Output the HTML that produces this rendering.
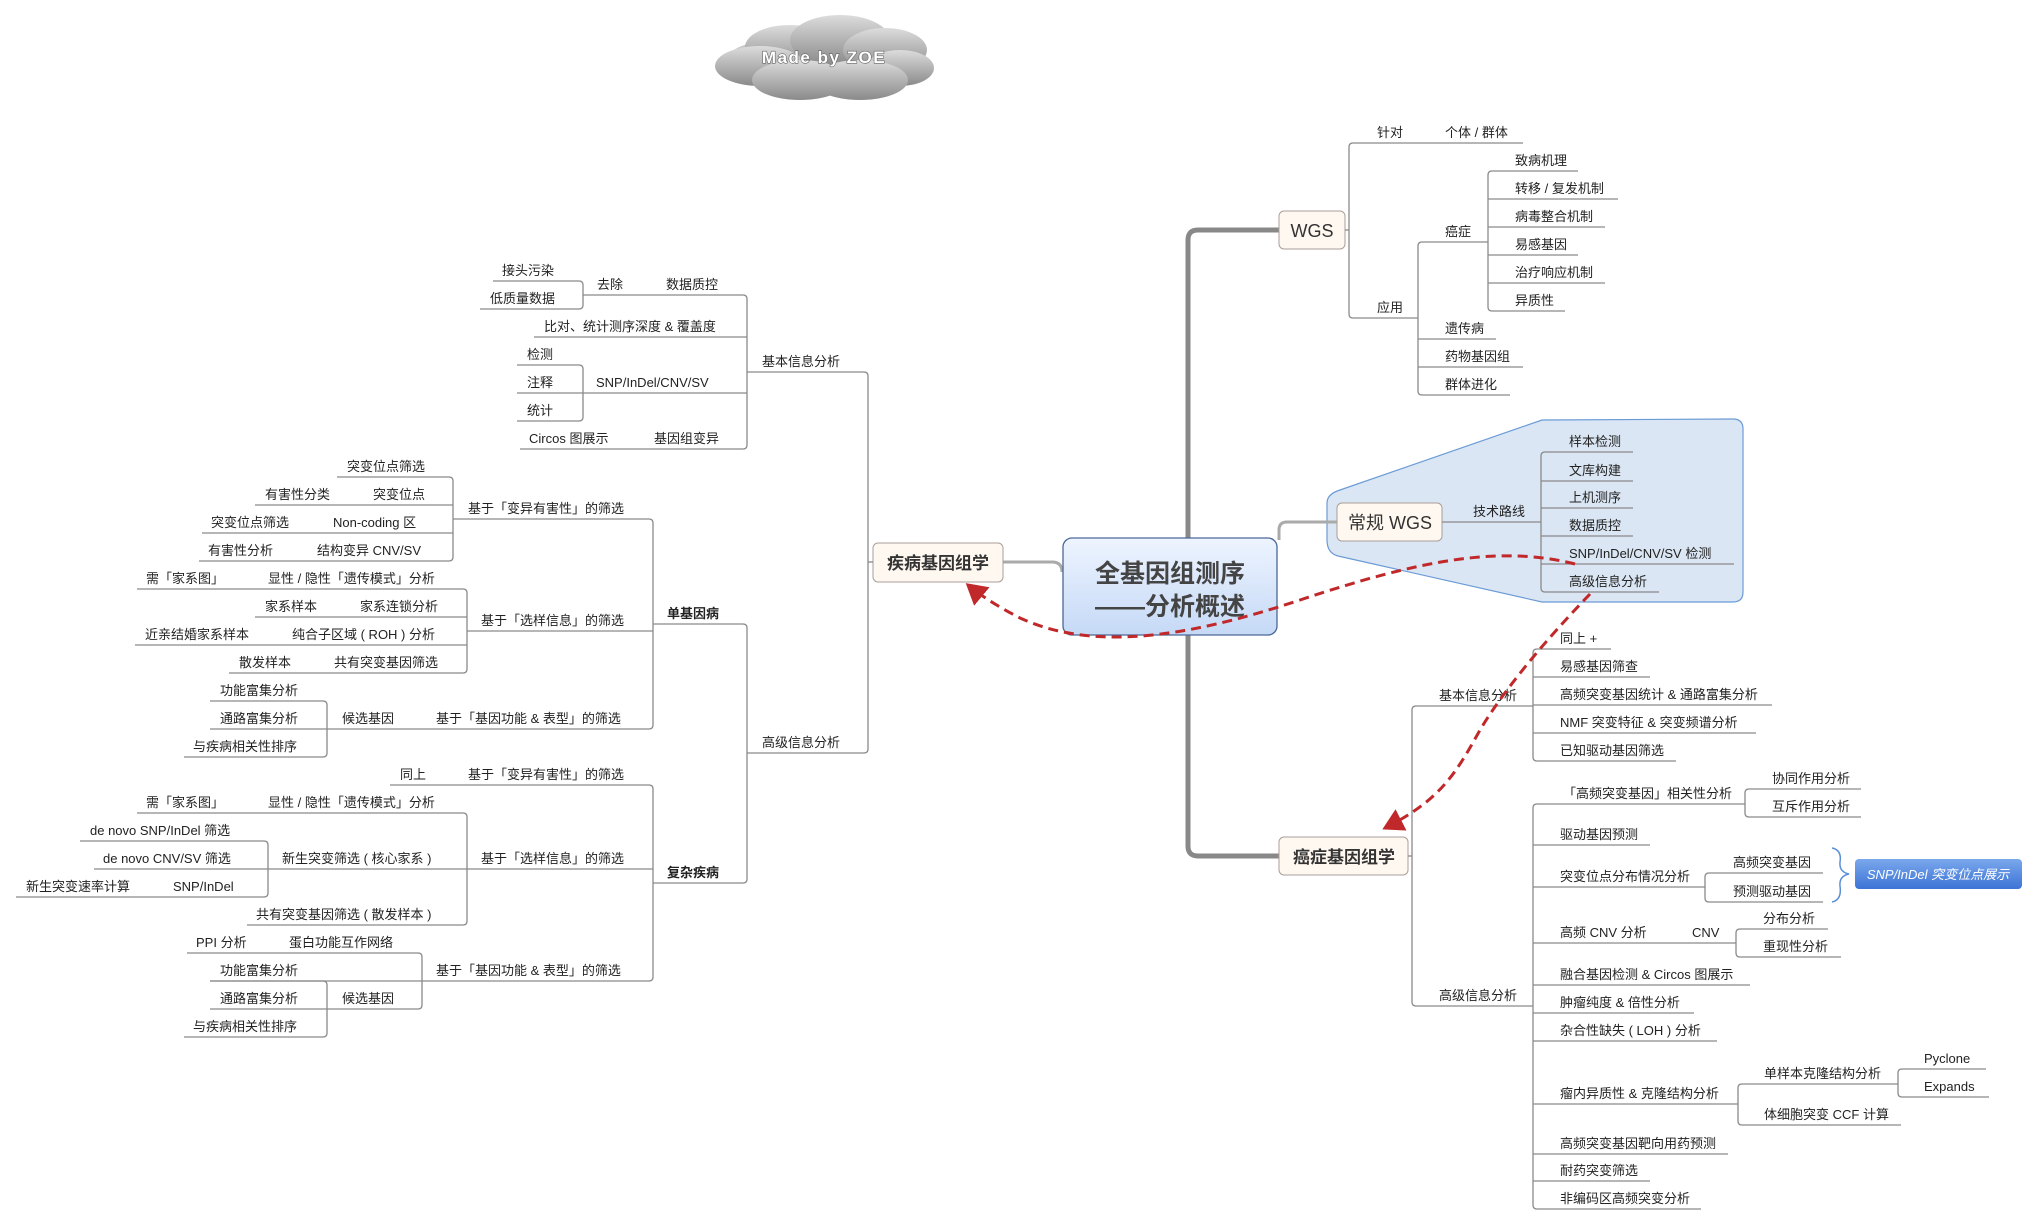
<!DOCTYPE html>
<html><head><meta charset="utf-8"><style>
html,body{margin:0;padding:0;background:#fff;}
svg{display:block;}
text{font-family:"Liberation Sans","Noto Sans CJK SC",sans-serif;font-size:13px;fill:#222;}
.b{font-weight:bold;}
</style></head><body>
<svg width="2039" height="1225" viewBox="0 0 2039 1225" xmlns="http://www.w3.org/2000/svg">
<defs>
<linearGradient id="cg" x1="0" y1="0" x2="0" y2="1"><stop offset="0" stop-color="#dcdcdc"/><stop offset="1" stop-color="#8a8a8a"/></linearGradient>
<linearGradient id="mg" x1="0" y1="0" x2="0" y2="1"><stop offset="0" stop-color="#eef4ff"/><stop offset="1" stop-color="#c5d9f6"/></linearGradient>
<linearGradient id="bg" x1="0" y1="0" x2="0" y2="1"><stop offset="0" stop-color="#7aa8ec"/><stop offset="1" stop-color="#3d74d6"/></linearGradient>
<marker id="ah" markerWidth="8" markerHeight="8" refX="6" refY="4" orient="auto" markerUnits="strokeWidth"><path d="M0,0 L7,4 L0,8 Z" fill="#c0282a"/></marker>
</defs>

<!-- cloud -->
<g fill="url(#cg)">
<ellipse cx="826" cy="60" rx="100" ry="26"/>
<ellipse cx="790" cy="47" rx="45" ry="22"/>
<ellipse cx="840" cy="40" rx="50" ry="25"/>
<ellipse cx="885" cy="50" rx="42" ry="22"/>
<ellipse cx="760" cy="66" rx="45" ry="20"/>
<ellipse cx="900" cy="68" rx="34" ry="18"/>
<ellipse cx="800" cy="80" rx="48" ry="20"/>
<ellipse cx="860" cy="80" rx="48" ry="20"/>
</g>
<text x="824" y="63" text-anchor="middle" style="font-family:'Liberation Sans',sans-serif;font-size:17px;font-weight:bold;fill:#fff;stroke:#666;stroke-width:1.2;paint-order:stroke;letter-spacing:1.5px">Made by ZOE</text>

<!-- 常规WGS blob -->
<path d="M1340,490 L1542,420 L1733,419 Q1743,419 1743,429 L1743,592 Q1743,602 1733,602 L1542,602 L1338,556 Q1327,553 1327,540 L1327,503 Q1327,494 1340,490 Z" fill="#dae6f3" stroke="#6b9bd6" stroke-width="1.2"/>

<!-- trunks -->
<g fill="none" stroke="#888" stroke-width="5">
<path d="M1188,540 L1188,240 Q1188,230 1198,230 L1279,230"/>
<path d="M1188,635 L1188,846 Q1188,856 1198,856 L1279,856"/>
</g>
<g fill="none" stroke="#aaa" stroke-width="3">
<path d="M1279,540 L1279,530 Q1279,522 1287,522 L1337,522"/>
<path d="M1003,562 L1052,562 Q1062,562 1062,572"/>
</g>

<!-- main node -->
<rect x="1063" y="538" width="214" height="97" rx="9" fill="url(#mg)" stroke="#4a6796" stroke-width="1.3"/>
<text x="1170" y="582" text-anchor="middle" class="b" style="font-size:25px;fill:#444">全基因组测序</text>
<text x="1170" y="615" text-anchor="middle" class="b" style="font-size:25px;fill:#444">——分析概述</text>

<!-- level-1 nodes -->
<rect x="873" y="543" width="130" height="39" rx="5" fill="#fff8f1" stroke="#a89f98"/>
<text x="938" y="569" text-anchor="middle" class="b" style="font-size:17px;fill:#333">疾病基因组学</text>
<rect x="1279" y="211" width="66" height="38" rx="5" fill="#fff8f1" stroke="#a89f98"/>
<text x="1312" y="237" text-anchor="middle" style="font-size:18px;fill:#333">WGS</text>
<rect x="1337" y="503" width="105" height="38" rx="5" fill="#fff8f1" stroke="#a89f98"/>
<text x="1390" y="529" text-anchor="middle" style="font-size:18px;fill:#333">常规 WGS</text>
<rect x="1279" y="837" width="129" height="38" rx="5" fill="#fff8f1" stroke="#a89f98"/>
<text x="1344" y="863" text-anchor="middle" class="b" style="font-size:17px;fill:#333">癌症基因组学</text>

<!-- branch lines -->
<g stroke="#8a8a8a" stroke-width="1.3" fill="none">
<line x1="868" y1="562" x2="873" y2="562"/>
<path d="M868,376 L868,749"/><path d="M868,376 Q868,372 864,372 L747,372"/><path d="M868,749 Q868,753 864,753 L747,753"/>
<path d="M747,299 L747,445"/><path d="M747,299 Q747,295 743,295 L583,295"/><path d="M747,445 Q747,449 743,449 L520,449"/>
<line x1="747" y1="337" x2="534" y2="337"/><line x1="747" y1="393" x2="517" y2="393"/>
<path d="M583,285 L583,305"/><path d="M583,285 Q583,281 579,281 L493,281"/><path d="M583,305 Q583,309 579,309 L480,309"/>
<path d="M583,369 L583,417"/><path d="M583,369 Q583,365 579,365 L517,365"/><path d="M583,417 Q583,421 579,421 L517,421"/>
<path d="M747,628 L747,879"/><path d="M747,628 Q747,624 743,624 L653,624"/><path d="M747,879 Q747,883 743,883 L653,883"/>
<path d="M653,523 L653,725"/><path d="M653,523 Q653,519 649,519 L453,519"/><path d="M653,725 Q653,729 649,729 L327,729"/>
<line x1="653" y1="631" x2="467" y2="631"/>
<path d="M453,481 L453,557"/><path d="M453,481 Q453,477 449,477 L337,477"/><path d="M453,557 Q453,561 449,561 L199,561"/>
<line x1="453" y1="505" x2="255" y2="505"/><line x1="453" y1="533" x2="202" y2="533"/>
<path d="M467,593 L467,669"/><path d="M467,593 Q467,589 463,589 L137,589"/><path d="M467,669 Q467,673 463,673 L229,673"/>
<line x1="467" y1="617" x2="255" y2="617"/><line x1="467" y1="645" x2="135" y2="645"/>
<path d="M327,705 L327,753"/><path d="M327,705 Q327,701 323,701 L210,701"/><path d="M327,753 Q327,757 323,757 L184,757"/>
<line x1="327" y1="729" x2="210" y2="729"/>
<path d="M653,789 L653,977"/><path d="M653,789 Q653,785 649,785 L390,785"/><path d="M653,977 Q653,981 649,981 L422,981"/>
<line x1="653" y1="869" x2="467" y2="869"/>
<path d="M467,817 L467,921"/><path d="M467,817 Q467,813 463,813 L137,813"/><path d="M467,921 Q467,925 463,925 L247,925"/>
<line x1="467" y1="869" x2="268" y2="869"/>
<path d="M268,845 L268,893"/><path d="M268,845 Q268,841 264,841 L80,841"/><path d="M268,893 Q268,897 264,897 L16,897"/>
<line x1="268" y1="869" x2="94" y2="869"/>
<path d="M422,957 L422,1005"/><path d="M422,957 Q422,953 418,953 L187,953"/><path d="M422,1005 Q422,1009 418,1009 L327,1009"/>
<line x1="422" y1="981" x2="210" y2="981"/>
<path d="M327,985 L327,1033"/><path d="M327,985 Q327,981 323,981 L210,981"/><path d="M327,1033 Q327,1037 323,1037 L184,1037"/>
<line x1="327" y1="1009" x2="210" y2="1009"/>

<line x1="1345" y1="230" x2="1349" y2="230"/>
<path d="M1349,147 L1349,314"/><path d="M1349,147 Q1349,143 1353,143 L1523,143"/><path d="M1349,314 Q1349,318 1353,318 L1418,318"/>
<path d="M1418,246 L1418,391"/><path d="M1418,246 Q1418,242 1422,242 L1488,242"/><path d="M1418,391 Q1418,395 1422,395 L1510,395"/>
<line x1="1418" y1="339" x2="1496" y2="339"/><line x1="1418" y1="367" x2="1523" y2="367"/>
<path d="M1488,175 L1488,307"/><path d="M1488,175 Q1488,171 1492,171 L1578,171"/><path d="M1488,307 Q1488,311 1492,311 L1565,311"/>
<line x1="1488" y1="199" x2="1618" y2="199"/><line x1="1488" y1="227" x2="1605" y2="227"/><line x1="1488" y1="255" x2="1578" y2="255"/><line x1="1488" y1="283" x2="1605" y2="283"/>
<line x1="1442" y1="522" x2="1541" y2="522"/>
<path d="M1541,456 L1541,588"/><path d="M1541,456 Q1541,452 1545,452 L1633,452"/><path d="M1541,588 Q1541,592 1545,592 L1659,592"/>
<line x1="1541" y1="481" x2="1633" y2="481"/><line x1="1541" y1="508" x2="1633" y2="508"/><line x1="1541" y1="536" x2="1633" y2="536"/><line x1="1541" y1="564" x2="1734" y2="564"/>
<line x1="1408" y1="856" x2="1412" y2="856"/>
<path d="M1412,710 L1412,1002"/><path d="M1412,710 Q1412,706 1416,706 L1533,706"/><path d="M1412,1002 Q1412,1006 1416,1006 L1533,1006"/>
<path d="M1533,653 L1533,757"/><path d="M1533,653 Q1533,649 1537,649 L1611,649"/><path d="M1533,757 Q1533,761 1537,761 L1676,761"/>
<line x1="1533" y1="677" x2="1650" y2="677"/><line x1="1533" y1="705" x2="1772" y2="705"/><line x1="1533" y1="733" x2="1756" y2="733"/>
<path d="M1533,808 L1533,1205"/><path d="M1533,808 Q1533,804 1537,804 L1745,804"/><path d="M1533,1205 Q1533,1209 1537,1209 L1701,1209"/>
<line x1="1533" y1="845" x2="1650" y2="845"/><line x1="1533" y1="887" x2="1705" y2="887"/><line x1="1533" y1="943" x2="1736" y2="943"/>
<line x1="1533" y1="985" x2="1750" y2="985"/><line x1="1533" y1="1013" x2="1694" y2="1013"/><line x1="1533" y1="1041" x2="1717" y2="1041"/>
<line x1="1533" y1="1104" x2="1738" y2="1104"/><line x1="1533" y1="1154" x2="1728" y2="1154"/><line x1="1533" y1="1181" x2="1650" y2="1181"/>
<path d="M1745,793 L1745,813"/><path d="M1745,793 Q1745,789 1749,789 L1861,789"/><path d="M1745,813 Q1745,817 1749,817 L1861,817"/>
<path d="M1705,877 L1705,898"/><path d="M1705,877 Q1705,873 1709,873 L1823,873"/><path d="M1705,898 Q1705,902 1709,902 L1823,902"/>
<path d="M1736,933 L1736,953"/><path d="M1736,933 Q1736,929 1740,929 L1828,929"/><path d="M1736,953 Q1736,957 1740,957 L1841,957"/>
<path d="M1738,1088 L1738,1121"/><path d="M1738,1088 Q1738,1084 1742,1084 L1898,1084"/><path d="M1738,1121 Q1738,1125 1742,1125 L1901,1125"/>
<path d="M1898,1073 L1898,1093"/><path d="M1898,1073 Q1898,1069 1902,1069 L1986,1069"/><path d="M1898,1093 Q1898,1097 1902,1097 L1989,1097"/>
</g>

<path d="M1832,848 Q1842,850 1840,862 Q1839,872 1849,874 Q1839,876 1840,886 Q1842,900 1832,902" fill="none" stroke="#5b8fd8" stroke-width="1.5"/>
<rect x="1855" y="859" width="167" height="30" rx="4" fill="url(#bg)"/>
<text x="1938" y="879" text-anchor="middle" style="fill:#fff;font-style:italic;font-size:13px">SNP/InDel 突变位点展示</text>

<text x="502" y="275">接头污染</text>
<text x="490" y="303">低质量数据</text>
<text x="597" y="289">去除</text><text x="666" y="289">数据质控</text>
<text x="544" y="331">比对、统计测序深度 &amp; 覆盖度</text>
<text x="527" y="359">检测</text><text x="527" y="387">注释</text><text x="527" y="415">统计</text>
<text x="596" y="387">SNP/InDel/CNV/SV</text>
<text x="529" y="443">Circos 图展示</text><text x="654" y="443">基因组变异</text>
<text x="762" y="366">基本信息分析</text>
<text x="762" y="747">高级信息分析</text>

<text x="347" y="471">突变位点筛选</text>
<text x="265" y="499">有害性分类</text><text x="373" y="499">突变位点</text>
<text x="211" y="527">突变位点筛选</text><text x="333" y="527">Non-coding 区</text>
<text x="208" y="555">有害性分析</text><text x="317" y="555">结构变异 CNV/SV</text>
<text x="468" y="513">基于「变异有害性」的筛选</text>
<text x="146" y="583">需「家系图」</text><text x="268" y="583">显性 / 隐性「遗传模式」分析</text>
<text x="265" y="611">家系样本</text><text x="360" y="611">家系连锁分析</text>
<text x="145" y="639">近亲结婚家系样本</text><text x="292" y="639">纯合子区域 ( ROH ) 分析</text>
<text x="239" y="667">散发样本</text><text x="334" y="667">共有突变基因筛选</text>
<text x="481" y="625">基于「选样信息」的筛选</text>
<text x="220" y="695">功能富集分析</text><text x="220" y="723">通路富集分析</text><text x="193" y="751">与疾病相关性排序</text>
<text x="342" y="723">候选基因</text><text x="436" y="723">基于「基因功能 &amp; 表型」的筛选</text>
<text x="667" y="618" class="b">单基因病</text>

<text x="400" y="779">同上</text><text x="468" y="779">基于「变异有害性」的筛选</text>
<text x="146" y="807">需「家系图」</text><text x="268" y="807">显性 / 隐性「遗传模式」分析</text>
<text x="90" y="835">de novo SNP/InDel 筛选</text>
<text x="103" y="863">de novo CNV/SV 筛选</text><text x="282" y="863">新生突变筛选 ( 核心家系 )</text>
<text x="26" y="891">新生突变速率计算</text><text x="173" y="891">SNP/InDel</text>
<text x="256" y="919">共有突变基因筛选 ( 散发样本 )</text>
<text x="481" y="863">基于「选样信息」的筛选</text>
<text x="667" y="877" class="b">复杂疾病</text>
<text x="196" y="947">PPI 分析</text><text x="289" y="947">蛋白功能互作网络</text>
<text x="220" y="975">功能富集分析</text><text x="220" y="1003">通路富集分析</text><text x="193" y="1031">与疾病相关性排序</text>
<text x="342" y="1003">候选基因</text>
<text x="436" y="975">基于「基因功能 &amp; 表型」的筛选</text>

<text x="1377" y="137">针对</text><text x="1445" y="137">个体 / 群体</text>
<text x="1377" y="312">应用</text>
<text x="1445" y="236">癌症</text>
<text x="1515" y="165">致病机理</text><text x="1515" y="193">转移 / 复发机制</text><text x="1515" y="221">病毒整合机制</text>
<text x="1515" y="249">易感基因</text><text x="1515" y="277">治疗响应机制</text><text x="1515" y="305">异质性</text>
<text x="1445" y="333">遗传病</text><text x="1445" y="361">药物基因组</text><text x="1445" y="389">群体进化</text>

<text x="1473" y="516">技术路线</text>
<text x="1569" y="446">样本检测</text><text x="1569" y="475">文库构建</text><text x="1569" y="502">上机测序</text>
<text x="1569" y="530">数据质控</text><text x="1569" y="558">SNP/InDel/CNV/SV 检测</text><text x="1569" y="586">高级信息分析</text>

<text x="1439" y="700">基本信息分析</text><text x="1439" y="1000">高级信息分析</text>
<text x="1560" y="643">同上 +</text><text x="1560" y="671">易感基因筛查</text>
<text x="1560" y="699">高频突变基因统计 &amp; 通路富集分析</text>
<text x="1560" y="727">NMF 突变特征 &amp; 突变频谱分析</text>
<text x="1560" y="755">已知驱动基因筛选</text>
<text x="1563" y="798">「高频突变基因」相关性分析</text>
<text x="1772" y="783">协同作用分析</text><text x="1772" y="811">互斥作用分析</text>
<text x="1560" y="839">驱动基因预测</text>
<text x="1560" y="881">突变位点分布情况分析</text>
<text x="1733" y="867">高频突变基因</text><text x="1733" y="896">预测驱动基因</text>
<text x="1560" y="937">高频 CNV 分析</text><text x="1692" y="937">CNV</text>
<text x="1763" y="923">分布分析</text><text x="1763" y="951">重现性分析</text>
<text x="1560" y="979">融合基因检测 &amp; Circos 图展示</text>
<text x="1560" y="1007">肿瘤纯度 &amp; 倍性分析</text>
<text x="1560" y="1035">杂合性缺失 ( LOH ) 分析</text>
<text x="1560" y="1098">瘤内异质性 &amp; 克隆结构分析</text>
<text x="1764" y="1078">单样本克隆结构分析</text><text x="1764" y="1119">体细胞突变 CCF 计算</text>
<text x="1924" y="1063">Pyclone</text><text x="1924" y="1091">Expands</text>
<text x="1560" y="1148">高频突变基因靶向用药预测</text>
<text x="1560" y="1175">耐药突变筛选</text>
<text x="1560" y="1203">非编码区高频突变分析</text>

<g fill="none" stroke="#c0282a" stroke-width="3" stroke-dasharray="10,6">
<path d="M1575,564 C1500,545 1420,560 1300,600 C1180,640 1090,650 1020,618 C995,605 980,595 968,585" marker-end="url(#ah)"/>
<path d="M1590,594 C1560,625 1510,680 1480,730 C1455,775 1440,800 1385,828" marker-end="url(#ah)"/>
</g>
</svg>
</body></html>
